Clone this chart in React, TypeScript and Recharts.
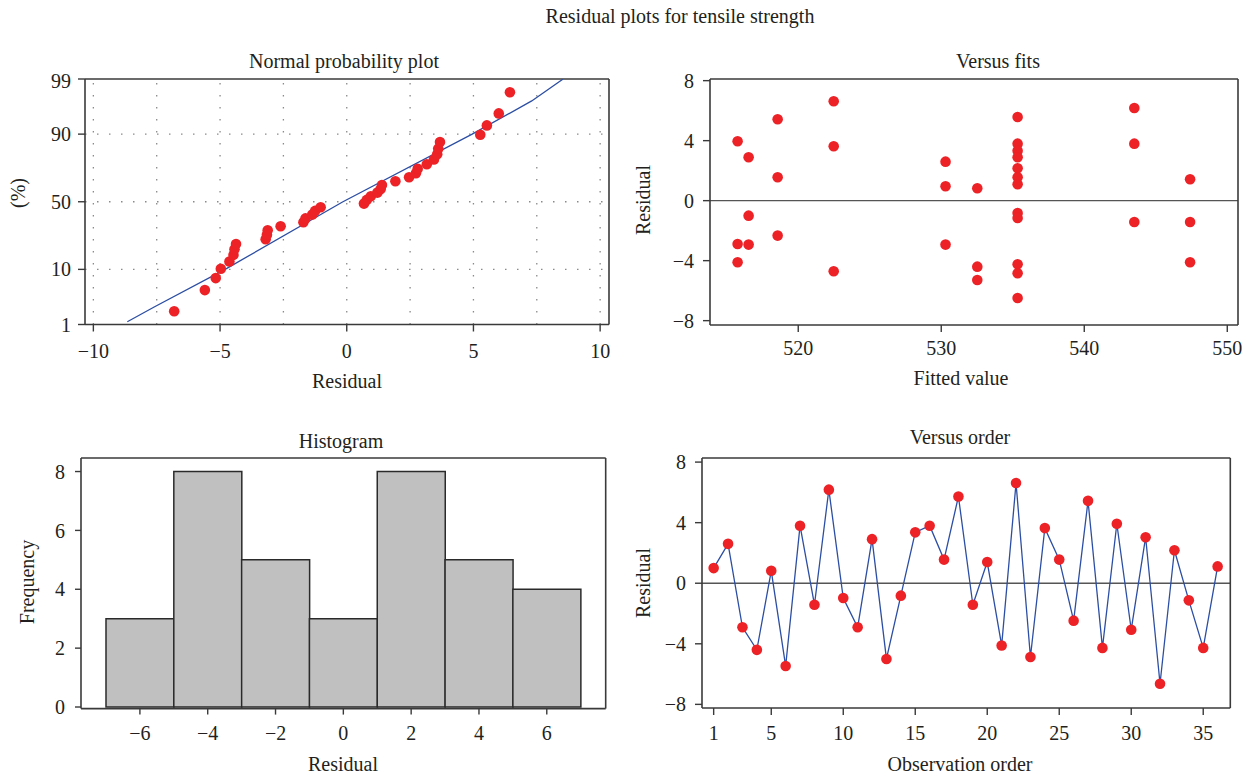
import React from "react"
import {
  ScatterChart, Scatter, ComposedChart, Bar, Line, XAxis, YAxis, ReferenceLine,
} from "recharts"

// normal probability plot (sorted residuals and their plotted percent)
const npResid = [-6.81, -5.6, -5.17, -4.97, -4.63, -4.47, -4.43, -4.37, -3.2, -3.15, -3.12, -2.61,
  -1.71, -1.63, -1.36, -1.25, -1.03, 0.68, 0.79, 0.95, 1.21, 1.34, 1.39, 1.92, 2.46, 2.73, 2.8,
  3.16, 3.44, 3.57, 3.61, 3.68, 5.27, 5.53, 6.0, 6.44]
const npPct = [1.9, 4.7, 7.4, 10.2, 12.9, 15.7, 18.4, 21.2, 23.9, 26.6, 29.4, 32.1, 34.9, 37.6,
  40.4, 43.1, 45.9, 48.6, 51.4, 54.1, 56.9, 59.6, 62.4, 65.1, 67.9, 70.6, 73.4, 76.1, 78.8, 81.6,
  84.3, 87.1, 89.8, 92.6, 95.3, 98.1]
const fitLineResid = [-8.66, -7.6, -4.8, -0.15, 4.95, 7.3, 8.54]
const fitLinePct = [1.15, 2.3, 10, 50, 90, 97.2, 99]
const pctTicks = [1, 10, 50, 90, 99]
const npXTicks = [-10, -5, 0, 5, 10]
const npGridX = [-10, -7.5, -5, -2.5, 0, 2.5, 5, 7.5, 10]
const npGridPct = [10, 50, 90]

// versus fits
const fitsX = [515.76, 515.76, 515.76, 516.53, 516.53, 516.53, 518.56, 518.56, 518.56,
  522.48, 522.48, 522.48, 530.3, 530.3, 530.3, 532.52, 532.52, 532.52,
  535.34, 535.34, 535.34, 535.34, 535.34, 535.34, 535.34, 535.34, 535.34, 535.34, 535.34, 535.34,
  543.5, 543.5, 543.5, 547.4, 547.4, 547.4]
const fitsRes = [3.96, -2.89, -4.11, 2.89, -1.0, -2.93, 5.43, 1.56, -2.33, 6.63, 3.63, -4.71,
  2.6, 0.96, -2.93, 0.83, -4.4, -5.29, 5.58, 3.8, 3.33, 2.89, 2.16, 1.56, 1.09, -0.82, -1.15,
  -4.24, -4.84, -6.49, 6.18, 3.8, -1.42, 1.43, -1.42, -4.11]
const fitsXTicks = [520, 530, 540, 550]
const resTicks = [-8, -4, 0, 4, 8]

// histogram
const histBins = ["−6", "−4", "−2", "0", "2", "4", "6"]
const histCounts = [3, 8, 5, 3, 8, 5, 4]
const histYTicks = [0, 2, 4, 6, 8]

// versus order
const orderRes = [1.0, 2.6, -2.91, -4.4, 0.82, -5.47, 3.8, -1.42, 6.18, -0.98, -2.91, 2.91,
  -5.0, -0.82, 3.36, 3.8, 1.56, 5.73, -1.42, 1.4, -4.11, 6.62, -4.87, 3.64, 1.56, -2.47, 5.44,
  -4.27, 3.93, -3.07, 3.04, -6.64, 2.18, -1.13, -4.27, 1.11]
const orderTicks = [1, 5, 10, 15, 20, 25, 30, 35]

const FONT = '"Liberation Serif", "Times New Roman", serif'
const INK = "#231f20"
const FRAME = "#3a3a3a"
const RED = "#ec2227"
const BLUE = "#2c4ea3"

// inverse normal cdf, for the probability axis
function probit(pct: number) {
  const p = pct / 100
  const a = [-39.69683028665376, 220.9460984245205, -275.9285104469687, 138.357751867269, -30.66479806614716, 2.506628277459239]
  const b = [-54.47609879822406, 161.5858368580409, -155.6989798598866, 66.80131188771972, -13.28068155288572]
  const c = [-0.007784894002430293, -0.3223964580411365, -2.400758277161838, -2.549732539343734, 4.374664141464968, 2.938163982698783]
  const d = [0.007784695709041462, 0.3224671290700398, 2.445134137142996, 3.754408661907416]
  const pl = 0.02425
  if (p < pl) {
    const q = Math.sqrt(-2 * Math.log(p))
    return (((((c[0] * q + c[1]) * q + c[2]) * q + c[3]) * q + c[4]) * q + c[5]) / ((((d[0] * q + d[1]) * q + d[2]) * q + d[3]) * q + 1)
  }
  if (p > 1 - pl) {
    const q = Math.sqrt(-2 * Math.log(1 - p))
    return -(((((c[0] * q + c[1]) * q + c[2]) * q + c[3]) * q + c[4]) * q + c[5]) / ((((d[0] * q + d[1]) * q + d[2]) * q + d[3]) * q + 1)
  }
  const q = p - 0.5
  const r = q * q
  return (((((a[0] * r + a[1]) * r + a[2]) * r + a[3]) * r + a[4]) * r + a[5]) * q / (((((b[0] * r + b[1]) * r + b[2]) * r + b[3]) * r + b[4]) * r + 1)
}

const npPoints = npResid.map((x, i) => ({ x, y: probit(npPct[i]) }))
const npFit = fitLineResid.map((x, i) => ({ x, y: probit(fitLinePct[i]) }))
const fitsPoints = fitsX.map((x, i) => ({ x, y: fitsRes[i] }))
const orderPoints = orderRes.map((y, i) => ({ x: i + 1, y }))
const histData = histBins.map((bin, i) => ({ bin, count: histCounts[i] }))
const frameAnchor = [{ x: 0.5, y: 0.5 }]

const minus = (v: any) => String(v).replace("-", "−")
const tickStyle = { fill: INK, fontSize: 20, fontFamily: FONT }
const frameLine = { stroke: FRAME, strokeWidth: 1.6 }
const tickLine = { stroke: FRAME, strokeWidth: 1.4 }

const dot = (p: any) => <circle cx={p.cx} cy={p.cy} r={5.3} fill={RED} />
const noDot = () => <g />

type Rect = { l: number; t: number; r: number; b: number }
const npRect: Rect = { l: 85, t: 79, r: 609, b: 324.5 }
const fitsRect: Rect = { l: 710, t: 79, r: 1238, b: 325 }
const histRect: Rect = { l: 81, t: 457.7, r: 605.7, b: 708.3 }
const orderRect: Rect = { l: 701.7, t: 457.7, r: 1230, b: 707.7 }

const place = (p: Rect) => ({
  style: { position: "absolute" as const, left: p.l - 80, top: p.t - 10 },
  width: p.r - p.l + 100,
  height: p.b - p.t + 60,
})
// top/right frame axes take 1px each
const MARGIN = { top: 9, right: 19, bottom: 0, left: 0 }

function Txt({ x, y, children, rotate }: any) {
  return (
    <div style={{
      position: "absolute", left: x, top: y, fontFamily: FONT, fontSize: 20, color: INK,
      lineHeight: 1, whiteSpace: "nowrap",
      transform: `translate(-50%, -50%)${rotate ? " rotate(-90deg)" : ""}`,
    }}>{children}</div>
  )
}

// top and right edges of the plot box: two tickless axes with an invisible series on them
function frameAxes() {
  return [
    <XAxis key="ft" xAxisId="top" orientation="top" type="number" dataKey="x" domain={[0, 1]} height={1}
      tick={false} tickLine={false} axisLine={frameLine} />,
    <YAxis key="fr" yAxisId="right" orientation="right" type="number" dataKey="y" domain={[0, 1]} width={1}
      tick={false} tickLine={false} axisLine={frameLine} />,
    <Scatter key="fs" xAxisId="top" yAxisId="right" data={frameAnchor} shape={noDot} isAnimationActive={false} />,
  ]
}

export default function App() {
  const npP = place(npRect)
  const fP = place(fitsRect)
  const hP = place(histRect)
  const oP = place(orderRect)
  const npY = [probit(1), probit(99)]
  return (
    <div style={{ position: "absolute", left: 0, top: 0, width: 1252, height: 775, background: "#fff" }}>
      <Txt x={680} y={16}>Residual plots for tensile strength</Txt>
      <Txt x={344} y={61}>Normal probability plot</Txt>
      <Txt x={998} y={61}>Versus fits</Txt>
      <Txt x={341} y={441}>Histogram</Txt>
      <Txt x={960} y={437}>Versus order</Txt>

      <div style={npP.style}>
        <ScatterChart width={npP.width} height={npP.height} margin={MARGIN}>
          <XAxis type="number" dataKey="x" domain={[-10.33, 10.35]} ticks={npXTicks} allowDataOverflow
            height={50} tick={tickStyle} tickFormatter={minus} tickSize={7} tickMargin={12}
            axisLine={frameLine} tickLine={tickLine} />
          <YAxis type="number" dataKey="y" domain={npY} ticks={pctTicks.map(probit)} allowDataOverflow
            width={80} tick={tickStyle} tickFormatter={(v: any, i: number) => String(pctTicks[i])}
            tickSize={7} tickMargin={7} axisLine={frameLine} tickLine={tickLine} />
          {frameAxes()}
          {npGridX.map((v) => (
            <ReferenceLine key={"gx" + v} x={v} stroke="#8a8a8a" strokeWidth={1.3} strokeDasharray="1.5 10.5" />
          ))}
          {npGridPct.map((v) => (
            <ReferenceLine key={"gy" + v} y={probit(v)} stroke="#8a8a8a" strokeWidth={1.3} strokeDasharray="1.5 10.5" />
          ))}
          <Scatter data={npFit} line={{ stroke: BLUE, strokeWidth: 1.3 }} shape={noDot} isAnimationActive={false} />
          <Scatter data={npPoints} shape={dot} isAnimationActive={false} />
        </ScatterChart>
      </div>

      <div style={fP.style}>
        <ScatterChart width={fP.width} height={fP.height} margin={MARGIN}>
          <XAxis type="number" dataKey="x" domain={[513.83, 550.75]} ticks={fitsXTicks} allowDataOverflow
            height={50} tick={tickStyle} tickSize={7} tickMargin={9}
            axisLine={frameLine} tickLine={tickLine} />
          <YAxis type="number" dataKey="y" domain={[-8.29, 8.11]} ticks={resTicks} allowDataOverflow
            width={80} tick={tickStyle} tickFormatter={minus} tickSize={7} tickMargin={9}
            axisLine={frameLine} tickLine={tickLine} />
          {frameAxes()}
          <ReferenceLine y={0} stroke="#555" strokeWidth={1.3} />
          <Scatter data={fitsPoints} shape={dot} isAnimationActive={false} />
        </ScatterChart>
      </div>

      <div style={hP.style}>
        <ComposedChart width={hP.width} height={hP.height} margin={MARGIN} data={histData} barCategoryGap={0}>
          <XAxis dataKey="bin" padding={{ left: 25, right: 25 }} height={50} tick={tickStyle}
            tickSize={6} tickMargin={11} axisLine={frameLine} tickLine={tickLine} interval={0} />
          <YAxis type="number" domain={[-0.054, 8.46]} ticks={histYTicks} allowDataOverflow
            width={80} tick={tickStyle} tickSize={6} tickMargin={10}
            axisLine={frameLine} tickLine={tickLine} />
          <XAxis xAxisId="top" orientation="top" dataKey="bin" padding={{ left: 25, right: 25 }} height={1}
            tick={false} tickLine={false} axisLine={frameLine} />
          <YAxis yAxisId="right" orientation="right" type="number" domain={[-0.054, 8.46]} width={1}
            tick={false} tickLine={false} axisLine={frameLine} />
          <Bar dataKey="count" fill="#c0c0c0" stroke="#2a2a2a" strokeWidth={1.5} isAnimationActive={false} />
          <Line xAxisId="top" yAxisId="right" dataKey="count" stroke="none" dot={false} activeDot={false}
            isAnimationActive={false} />
        </ComposedChart>
      </div>

      <div style={oP.style}>
        <ScatterChart width={oP.width} height={oP.height} margin={MARGIN}>
          <XAxis type="number" dataKey="x" domain={[0.19, 36.88]} ticks={orderTicks} allowDataOverflow
            height={50} tick={tickStyle} tickSize={7} tickMargin={11}
            axisLine={frameLine} tickLine={tickLine} />
          <YAxis type="number" dataKey="y" domain={[-8.24, 8.27]} ticks={resTicks} allowDataOverflow
            width={80} tick={tickStyle} tickFormatter={minus} tickSize={7} tickMargin={9}
            axisLine={frameLine} tickLine={tickLine} />
          {frameAxes()}
          <ReferenceLine y={0} stroke="#555" strokeWidth={1.3} />
          <Scatter data={orderPoints} line={{ stroke: BLUE, strokeWidth: 1.3 }} shape={dot} isAnimationActive={false} />
        </ScatterChart>
      </div>

      <Txt x={347} y={381}>Residual</Txt>
      <Txt x={961} y={378}>Fitted value</Txt>
      <Txt x={343} y={764}>Residual</Txt>
      <Txt x={960} y={764}>Observation order</Txt>
      <Txt x={18} y={193} rotate>(%)</Txt>
      <Txt x={643} y={200} rotate>Residual</Txt>
      <Txt x={27} y={582} rotate>Frequency</Txt>
      <Txt x={643} y={583} rotate>Residual</Txt>
    </div>
  )
}
